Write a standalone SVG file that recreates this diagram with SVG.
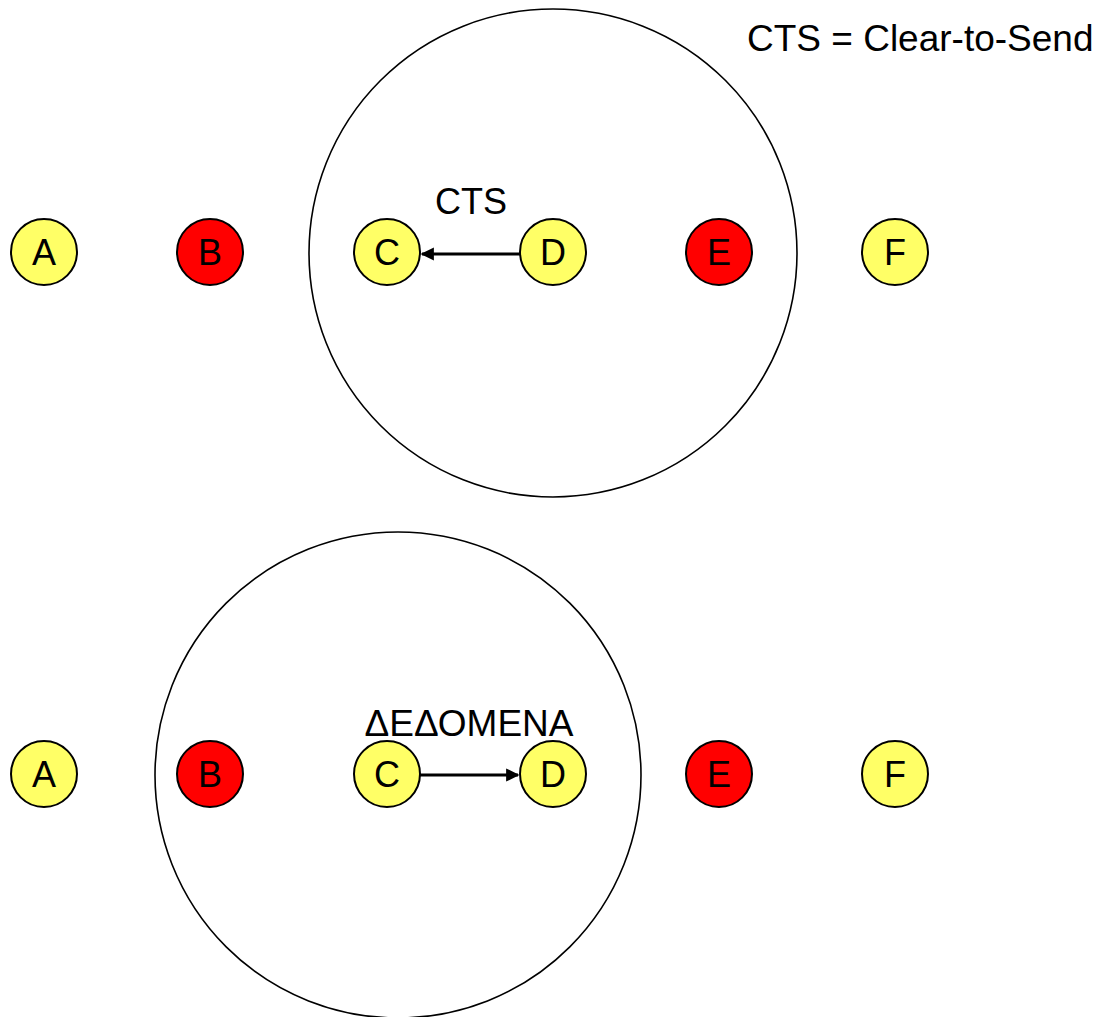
<svg xmlns="http://www.w3.org/2000/svg" width="1098" height="1017" viewBox="0 0 1098 1017">
  <style>
    .range { fill: none; stroke: #000; stroke-width: 1.6; }
    .node circle { stroke: #000; stroke-width: 2; }
    .yellow circle { fill: #ffff66; }
    .red circle { fill: #ff0000; }
    text { font-family: "Liberation Sans", Arial, sans-serif; font-size: 36px; fill: #000; }
    .node text { text-anchor: middle; }
    .link { stroke: #000; stroke-width: 3; fill: none; marker-end: url(#head); }
  </style>
  <defs>
    <marker id="head" viewBox="0 0 10 10" refX="9" refY="5" markerWidth="4.4" markerHeight="4.4" orient="auto" markerUnits="strokeWidth">
      <path d="M0,0 L10,5 L0,10 Z" fill="#000"/>
    </marker>
  </defs>
  <rect width="1098" height="1017" fill="#fff"/>

  <text x="747" y="51" style="font-size:37px">CTS = Clear-to-Send</text>

  <!-- transmission ranges -->
  <circle class="range" cx="553" cy="253" r="244"/>
  <circle class="range" cx="398" cy="775" r="243"/>

  <!-- top row: D answers C with CTS -->
  <g id="top-A" class="node yellow"><circle cx="44" cy="252" r="33"/><text x="44" y="265">A</text></g>
  <g id="top-B" class="node red"><circle cx="210" cy="252" r="33"/><text x="210" y="265">B</text></g>
  <g id="top-C" class="node yellow"><circle cx="387" cy="252" r="33"/><text x="387" y="265">C</text></g>
  <g id="top-D" class="node yellow"><circle cx="553" cy="252" r="33"/><text x="553" y="265">D</text></g>
  <g id="top-E" class="node red"><circle cx="719" cy="252" r="33"/><text x="719" y="265">E</text></g>
  <g id="top-F" class="node yellow"><circle cx="895" cy="252" r="33"/><text x="895" y="265">F</text></g>

  <!-- bottom row: C sends data to D -->
  <g id="bottom-A" class="node yellow"><circle cx="44" cy="774" r="33"/><text x="44" y="787">A</text></g>
  <g id="bottom-B" class="node red"><circle cx="210" cy="774" r="33"/><text x="210" y="787">B</text></g>
  <g id="bottom-C" class="node yellow"><circle cx="387" cy="774" r="33"/><text x="387" y="787">C</text></g>
  <g id="bottom-D" class="node yellow"><circle cx="553" cy="774" r="33"/><text x="553" y="787">D</text></g>
  <g id="bottom-E" class="node red"><circle cx="719" cy="774" r="33"/><text x="719" y="787">E</text></g>
  <g id="bottom-F" class="node yellow"><circle cx="895" cy="774" r="33"/><text x="895" y="787">F</text></g>

  <g id="connectors">
    <line class="link" x1="520" y1="254" x2="422" y2="254"/>
    <text x="471" y="214" text-anchor="middle">CTS</text>
    <line class="link" x1="420" y1="775" x2="518" y2="775"/>
    <text x="469" y="736" text-anchor="middle" style="font-size:37px">ΔΕΔΟΜΕΝΑ</text>
  </g>
</svg>
